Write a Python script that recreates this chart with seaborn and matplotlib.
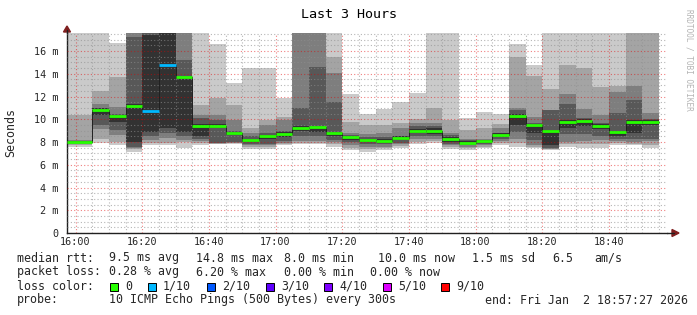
import numpy as np
import pandas as pd
import matplotlib
matplotlib.use("Agg")
import matplotlib.pyplot as plt
import matplotlib.dates as mdates
from matplotlib.patches import Rectangle, Polygon
from matplotlib.lines import Line2D
import seaborn as sns

# ---------------- data ----------------
t_start = pd.Timestamp("2026-01-02 15:57:27")
t_end = pd.Timestamp("2026-01-02 18:57:27")
bar_ends = pd.date_range("2026-01-02 16:05", "2026-01-02 18:55", freq="5min")

# sorted ping rtts (ms) per 5-minute step; values above the plot top are clipped
p1 = [7.6, 7.9, 7.7, 7.15, 7.7, 7.75, 7.5, 7.7, 7.8, 7.8, 7.4, 7.4, 7.75, 7.8, 7.8, 7.6, 7.3, 7.15,
      7.3, 7.45, 7.8, 7.9, 7.4, 7.3, 7.45, 7.7, 7.6, 7.45, 7.3, 7.6, 7.5, 7.45, 7.75, 7.7, 7.45]
p2 = [7.7, 8.26, 8.0, 7.35, 7.9, 7.95, 8.0, 7.9, 7.85, 7.9, 7.6, 7.6, 7.85, 7.95, 7.95, 7.85, 7.5, 7.35,
      7.5, 7.65, 8.0, 8.1, 7.55, 7.45, 7.6, 7.9, 7.9, 7.6, 7.35, 7.8, 7.8, 7.85, 7.95, 7.85, 7.7]
p3 = [7.8, 9.1, 8.6, 7.45, 8.2, 8.35, 8.2, 8.05, 7.9, 7.95, 7.7, 7.7, 7.95, 8.1, 8.1, 8.0, 7.75, 7.55,
      7.6, 7.8, 8.25, 8.3, 7.7, 7.55, 7.7, 8.1, 8.25, 7.75, 7.4, 8.0, 8.05, 8.2, 8.1, 8.0, 8.05]
p4 = [7.9, 9.5, 9.05, 7.6, 8.5, 8.8, 8.5, 8.25, 7.95, 8.0, 7.8, 7.8, 8.1, 8.5, 8.5, 8.2, 8.0, 7.8,
      7.8, 7.95, 8.5, 8.5, 7.85, 7.7, 7.85, 8.25, 8.85, 8.2, 7.5, 8.7, 8.7, 8.5, 8.3, 8.3, 8.3]
p5 = [7.95, 10.4, 9.8, 8.0, 8.9, 9.2, 8.9, 8.5, 9.2, 8.6, 8.0, 8.3, 8.45, 9.0, 8.9, 8.5, 8.2, 8.0,
      7.95, 8.15, 8.75, 8.7, 8.0, 7.85, 7.95, 8.45, 9.5, 8.8, 7.75, 9.2, 9.4, 9.15, 8.5, 8.8, 9.5]
p6 = [8.05, 10.95, 10.35, 11.3, 17.4, 25, 13.75, 9.6, 9.55, 8.9, 8.3, 8.6, 8.85, 9.4, 9.45, 8.9, 8.5, 8.3,
      8.25, 8.5, 9.15, 9.2, 8.4, 8.05, 8.15, 8.75, 10.5, 9.6, 9.05, 9.95, 10.0, 9.55, 8.95, 9.95, 9.95]
p7 = [8.1, 11.0, 10.45, 17.2, 25, 25, 15.2, 10.1, 9.95, 9.0, 8.55, 8.75, 9.0, 10.95, 14.55, 11.55, 8.6, 8.45,
      8.4, 8.55, 9.4, 9.45, 8.6, 8.2, 8.2, 8.8, 10.8, 9.65, 10.8, 11.35, 10.1, 9.65, 10.55, 11.7, 10.0]
p8 = [8.2, 11.35, 11.1, 25, 25, 25, 25, 10.4, 10.4, 9.95, 8.8, 9.5, 9.95, 25, 25, 14.05, 8.75, 8.7,
      8.75, 9.2, 9.7, 9.7, 8.75, 8.3, 8.25, 9.2, 10.95, 10.2, 10.85, 12.2, 10.9, 10.4, 12.4, 12.9, 10.55]
p9 = [10.4, 12.45, 13.7, 25, 25, 25, 25, 11.25, 11.85, 11.25, 9.2, 9.95, 10.2, 25, 25, 15.5, 9.8, 9.5,
      9.5, 9.7, 10.0, 11.0, 9.95, 9.05, 9.25, 9.6, 15.5, 13.8, 12.65, 14.75, 14.5, 12.8, 12.9, 25, 25]
p10 = [25, 25, 16.7, 25, 25, 25, 25, 25, 16.6, 13.2, 14.5, 14.5, 11.85, 25, 25, 25, 12.2, 10.5,
       10.9, 11.5, 12.3, 25, 25, 10.1, 10.6, 10.5, 16.6, 14.8, 25, 25, 25, 25, 25, 25, 25]
median = [8.0, 10.8, 10.25, 11.2, 10.7, 14.75, 13.7, 9.45, 9.4, 8.8, 8.15, 8.5, 8.7, 9.25, 9.3, 8.75, 8.4, 8.15,
          8.1, 8.35, 9.0, 9.0, 8.25, 7.95, 8.05, 8.65, 10.3, 9.5, 8.95, 9.8, 9.85, 9.45, 8.85, 9.8, 9.8]
loss = [0, 0, 0, 0, 1, 1, 0, 0, 0, 0, 0, 0, 0, 0, 0, 0, 0, 0,
        0, 0, 0, 0, 0, 0, 0, 0, 0, 0, 0, 0, 0, 0, 0, 0, 0]

loss_labels = ["0", "1/10", "2/10", "3/10", "4/10", "5/10", "9/10"]
loss_values = [0, 1, 2, 3, 4, 5, 9]
loss_colors = ["#26ff00", "#00b8ff", "#0059ff", "#5e00ff", "#7e00ff", "#dd00ff", "#ff0000"]
smoke_colors = ["#cacaca", "#a4a4a4", "#7e7e7e", "#585858", "#323232"]

y_ticks = [0, 2, 4, 6, 8, 10, 12, 14, 16]
y_ticklabels = ["0", "2 m", "4 m", "6 m", "8 m", "10 m", "12 m", "14 m", "16 m"]

stats_rtt = ["median rtt:", "9.5 ms avg", "14.8 ms max", "8.0 ms min", "10.0 ms now", "1.5 ms sd", "6.5", "am/s"]
stats_loss = ["packet loss:", "0.28 % avg", "6.20 % max", "0.00 % min", "0.00 % now"]
probe_text = ["probe:", "10 ICMP Echo Pings (500 Bytes) every 300s", "end: Fri Jan  2 18:57:27 2026"]

# ---------------- figure ----------------
sns.set_style("white")
plt.rcParams["font.family"] = ["DejaVu Sans Mono", "DejaVu Sans"]

W, H = 697, 315
fig = plt.figure(figsize=(W / 100, H / 100), dpi=100)
fig.patch.set_facecolor("white")

def fx(x):
    return x / W

def fy(y):
    return 1 - y / H

x0, x1, yt, yb = 67, 667, 33, 233
ax = fig.add_axes([fx(x0), fy(yb), (x1 - x0) / W, (yb - yt) / H])
ax.set_facecolor("white")

edges = np.concatenate([[mdates.date2num(t_start)], mdates.date2num(bar_ends)])
bands = [(p1, p10), (p2, p9), (p3, p8), (p4, p7), (p5, p6)]
for (lo, hi), c in zip(bands, smoke_colors):
    ax.stairs(np.array(hi), edges, baseline=np.array(lo), fill=True, color=c, linewidth=0, zorder=1)

# thin dark stepped median line
step_df = pd.DataFrame({"t": edges, "m": list(median) + [median[-1]]})
sns.lineplot(data=step_df, x="t", y="m", drawstyle="steps-post", color="#202020",
             linewidth=0.7, ax=ax, zorder=3, sort=False)

# loss-coloured median bars
med = np.array(median)
lossa = np.array(loss)
for lv, lc in zip(loss_values, loss_colors):
    m = lossa == lv
    if m.any():
        ax.hlines(med[m], edges[:-1][m], edges[1:][m], colors=lc, linewidth=2.0, zorder=4)

ax.set_xlim(mdates.date2num(t_start), mdates.date2num(t_end))
ax.set_ylim(0, (yb - yt) / 11.375)

ax.xaxis.set_major_locator(mdates.MinuteLocator(byminute=[0, 20, 40]))
ax.xaxis.set_minor_locator(mdates.MinuteLocator(byminute=list(range(0, 60, 5))))
ax.xaxis.set_major_formatter(mdates.DateFormatter("%H:%M"))
ax.set_yticks(y_ticks)
ax.set_yticklabels(y_ticklabels)
ax.yaxis.set_minor_locator(matplotlib.ticker.MultipleLocator(0.5))

ax.set_axisbelow(False)
ax.grid(which="minor", color="#8f8f8f", alpha=0.65, linestyle=(0, (1, 2)), linewidth=0.8)
ax.grid(which="major", color="#e00000", alpha=0.5, linestyle=(0, (1, 2)), linewidth=0.8)

for s in ["top", "right"]:
    ax.spines[s].set_visible(False)
for s in ["left", "bottom"]:
    ax.spines[s].set_color("#202020")
    ax.spines[s].set_linewidth(1.0)

ax.tick_params(axis="both", which="major", labelsize=7.3, length=2, width=0.7, color="#404040",
               direction="out")
ax.tick_params(axis="both", which="minor", length=2, width=0.6, color="#808080", direction="out")
ax.tick_params(axis="x", which="major", pad=1)
ax.tick_params(axis="y", which="major", pad=4)
ax.set_xlabel("")
ax.set_ylabel("")

# axis extension and arrows
fig.add_artist(Line2D([fx(x1), fx(674)], [fy(yb), fy(yb)], color="#202020", linewidth=1.0))
fig.add_artist(Polygon([[fx(672), fy(yb - 3.5)], [fx(679), fy(yb)], [fx(672), fy(yb + 3.5)]],
                       closed=True, color="#7f1f1f", transform=fig.transFigure))
fig.add_artist(Line2D([fx(x0), fx(x0)], [fy(yt), fy(30)], color="#202020", linewidth=1.0))
fig.add_artist(Polygon([[fx(x0 - 3.5), fy(32)], [fx(x0), fy(26)], [fx(x0 + 3.5), fy(32)]],
                       closed=True, color="#7f1f1f", transform=fig.transFigure))

# title, axis label, watermark
fig.text(fx(349), fy(14), "Last 3 Hours", ha="center", va="center", fontsize=9.6, color="black")
fig.text(fx(11), fy(132), "Seconds", ha="center", va="center", rotation=90, fontsize=8.4)
fig.text(fx(689), fy(60), "RRDTOOL / TOBI OETIKER", ha="center", va="center", rotation=270,
         fontsize=5.6, color="#b4b4b4")

# legend
fs = 8.4
rtt_x = [16.7, 109, 196, 284, 377.5, 471.6, 551.8, 594.6]
for x, s in zip(rtt_x, stats_rtt):
    fig.text(fx(x), fy(258), s, ha="left", va="center", fontsize=fs)
loss_x = [16.7, 109, 196, 284, 370]
for x, s in zip(loss_x, stats_loss):
    fig.text(fx(x), fy(272), s, ha="left", va="center", fontsize=fs)
fig.text(fx(16.7), fy(286), "loss color:", ha="left", va="center", fontsize=fs)
box_x = [110, 148, 207, 266, 324, 383, 441]
for bx, lab, col in zip(box_x, loss_labels, loss_colors):
    fig.add_artist(Rectangle((fx(bx), fy(290.5)), 8 / W, 8 / H, facecolor=col, edgecolor="black",
                             linewidth=0.7, transform=fig.transFigure))
    fig.text(fx(bx + 15), fy(286), lab, ha="left", va="center", fontsize=fs)
probe_x = [16.7, 109, 485]
for x, s in zip(probe_x, probe_text):
    fig.text(fx(x), fy(300), s, ha="left", va="center", fontsize=fs)

fig.savefig("out.png", dpi=100, facecolor="white")
